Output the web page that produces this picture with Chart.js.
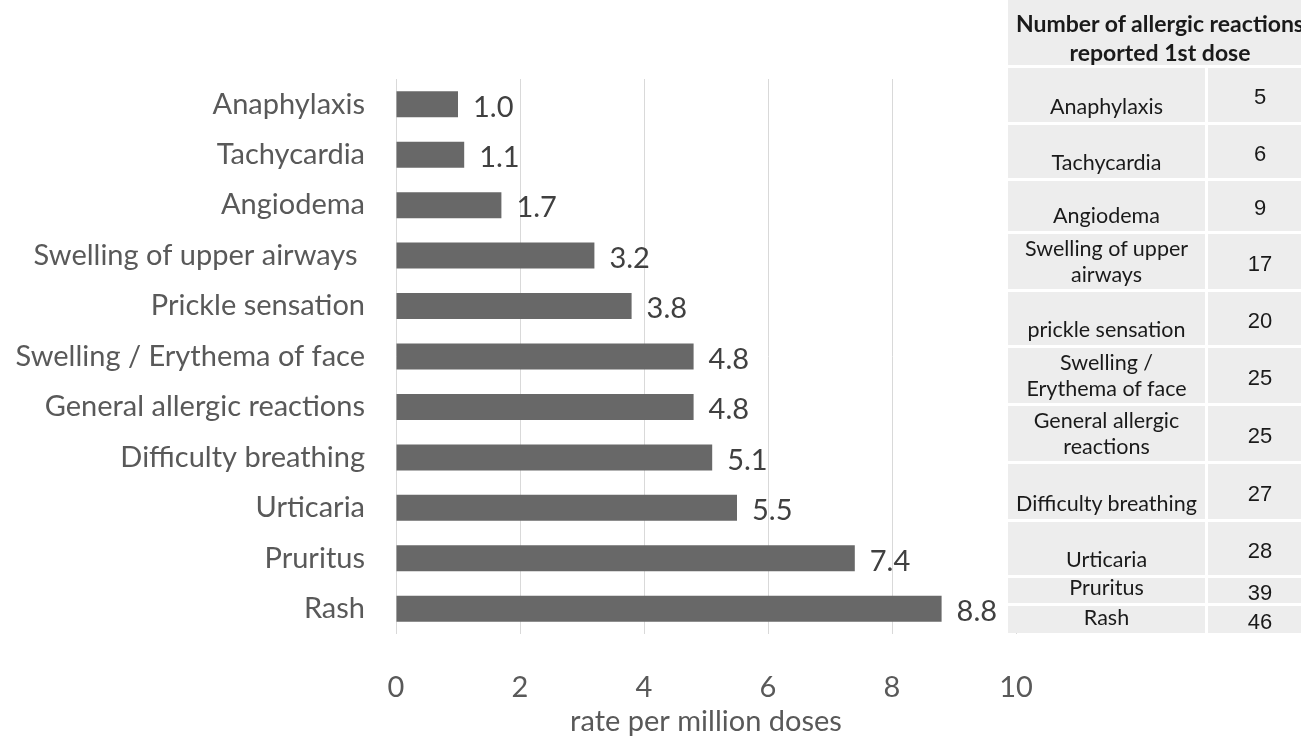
<!DOCTYPE html>
<html>
<head>
<meta charset="utf-8">
<script src="https://cdn.jsdelivr.net/npm/chart.js@4.4.1/dist/chart.umd.min.js"></script>
<style>
  html, body { margin: 0; padding: 0; background: #fff; overflow: hidden; }
  #wrap { position: relative; width: 1301px; height: 739px; }
  #grafikReaksi { position: absolute; left: 0; top: 0; }
  #tabel {
    position: absolute; left: 1008px; top: 0; width: 304px; height: 633px;
    display: grid; grid-template-columns: 197px 104px;
    grid-template-rows: 65px 54px 53px 50px 55px 53px 55px 55px 55px 53px 25px 27px;
    gap: 3px; background: #fff; font-family: Lato, sans-serif; color: #1a1a1a;
  }
  #tabel div { background: #ededed; display: flex; justify-content: center; text-align: center; white-space: pre; }
  #tabel .kepala { grid-column: 1 / span 2; align-items: center; font-weight: bold; font-size: 23px; line-height: 1.25; padding-top: 10px; box-sizing: border-box; }
  #tabel .nama { align-items: flex-end; font-size: 21.5px; line-height: 1.2; padding-bottom: 2px; }
  #tabel .nama.dua { align-items: center; padding-bottom: 0; }
  #tabel .jumlah { align-items: center; font-family: "Liberation Sans", Arial, sans-serif; font-size: 22px; padding-top: 4px; box-sizing: border-box; }
</style>
</head>
<body>
<div id="wrap">
  <canvas id="grafikReaksi" width="1301" height="739"></canvas>
  <div id="tabel"></div>
</div>
<script>
const categories = [
  "Anaphylaxis", "Tachycardia", "Angiodema", "Swelling of upper airways ",
  "Prickle sensation", "Swelling / Erythema of face", "General allergic reactions",
  "Difficulty breathing", "Urticaria", "Pruritus", "Rash"
];
const ratePerMillion = [1.0, 1.1, 1.7, 3.2, 3.8, 4.8, 4.8, 5.1, 5.5, 7.4, 8.8];
const xTicks = [0, 2, 4, 6, 8, 10];

const tableTitle = "Number of allergic reactions\nreported 1st dose";
const tableLabels = [
  "Anaphylaxis", "Tachycardia", "Angiodema", "Swelling of upper\nairways",
  "prickle sensation", "Swelling /\nErythema of face", "General allergic\nreactions",
  "Difficulty breathing", "Urticaria", "Pruritus", "Rash"
];
const reportedFirstDose = [5, 6, 9, 17, 20, 25, 25, 27, 28, 39, 46];

document.addEventListener("DOMContentLoaded", function () {
    // tabel di sebelah kanan
    const tabel = document.getElementById("tabel");
    const kepala = document.createElement("div");
    kepala.className = "kepala";
    kepala.textContent = tableTitle;
    tabel.appendChild(kepala);
    tableLabels.forEach(function (nama, i) {
        const a = document.createElement("div");
        a.className = nama.indexOf("\n") >= 0 ? "nama dua" : "nama";
        a.textContent = nama;
        const b = document.createElement("div");
        b.className = "jumlah";
        b.textContent = reportedFirstDose[i];
        tabel.appendChild(a);
        tabel.appendChild(b);
    });

    const valueLabels = {
        id: "valueLabels",
        afterDatasetsDraw(chart) {
            const c = chart.ctx;
            c.save();
            c.font = "29px Lato";
            c.fillStyle = "#404040";
            c.textBaseline = "middle";
            chart.getDatasetMeta(0).data.forEach(function (bar, i) {
                c.fillText(ratePerMillion[i].toFixed(1), bar.x + 15, bar.y + 3);
            });
            c.restore();
        }
    };

    const ctx = document.getElementById("grafikReaksi").getContext("2d");
    new Chart(ctx, {
        type: "bar",
        data: {
            labels: categories,
            datasets: [{
                data: ratePerMillion,
                backgroundColor: "#686868",
                barPercentage: 0.515,
                categoryPercentage: 1
            }]
        },
        options: {
            indexAxis: "y",
            responsive: false,
            animation: false,
            layout: { padding: { top: 79, right: 285, bottom: 0, left: 0 } },
            plugins: { legend: { display: false }, tooltip: { enabled: false } },
            scales: {
                x: {
                    min: xTicks[0],
                    max: xTicks[xTicks.length - 1],
                    ticks: { stepSize: xTicks[1] - xTicks[0], padding: 36, color: "#595959", font: { family: "Lato", size: 29 } },
                    grid: { color: "#d9d9d9", drawTicks: false },
                    border: { display: false },
                    title: { display: true, text: "rate per million doses", color: "#595959", padding: 0, font: { family: "Lato", size: 29 } },
                    afterFit: function (s) { s.height = 105; }
                },
                y: {
                    grid: { display: false, drawTicks: false },
                    border: { display: false },
                    ticks: { padding: 31, color: "#595959", font: { family: "Lato", size: 29 } },
                    afterFit: function (s) { s.width = 396; }
                }
            }
        },
        plugins: [valueLabels]
    });
});
</script>
</body>
</html>
